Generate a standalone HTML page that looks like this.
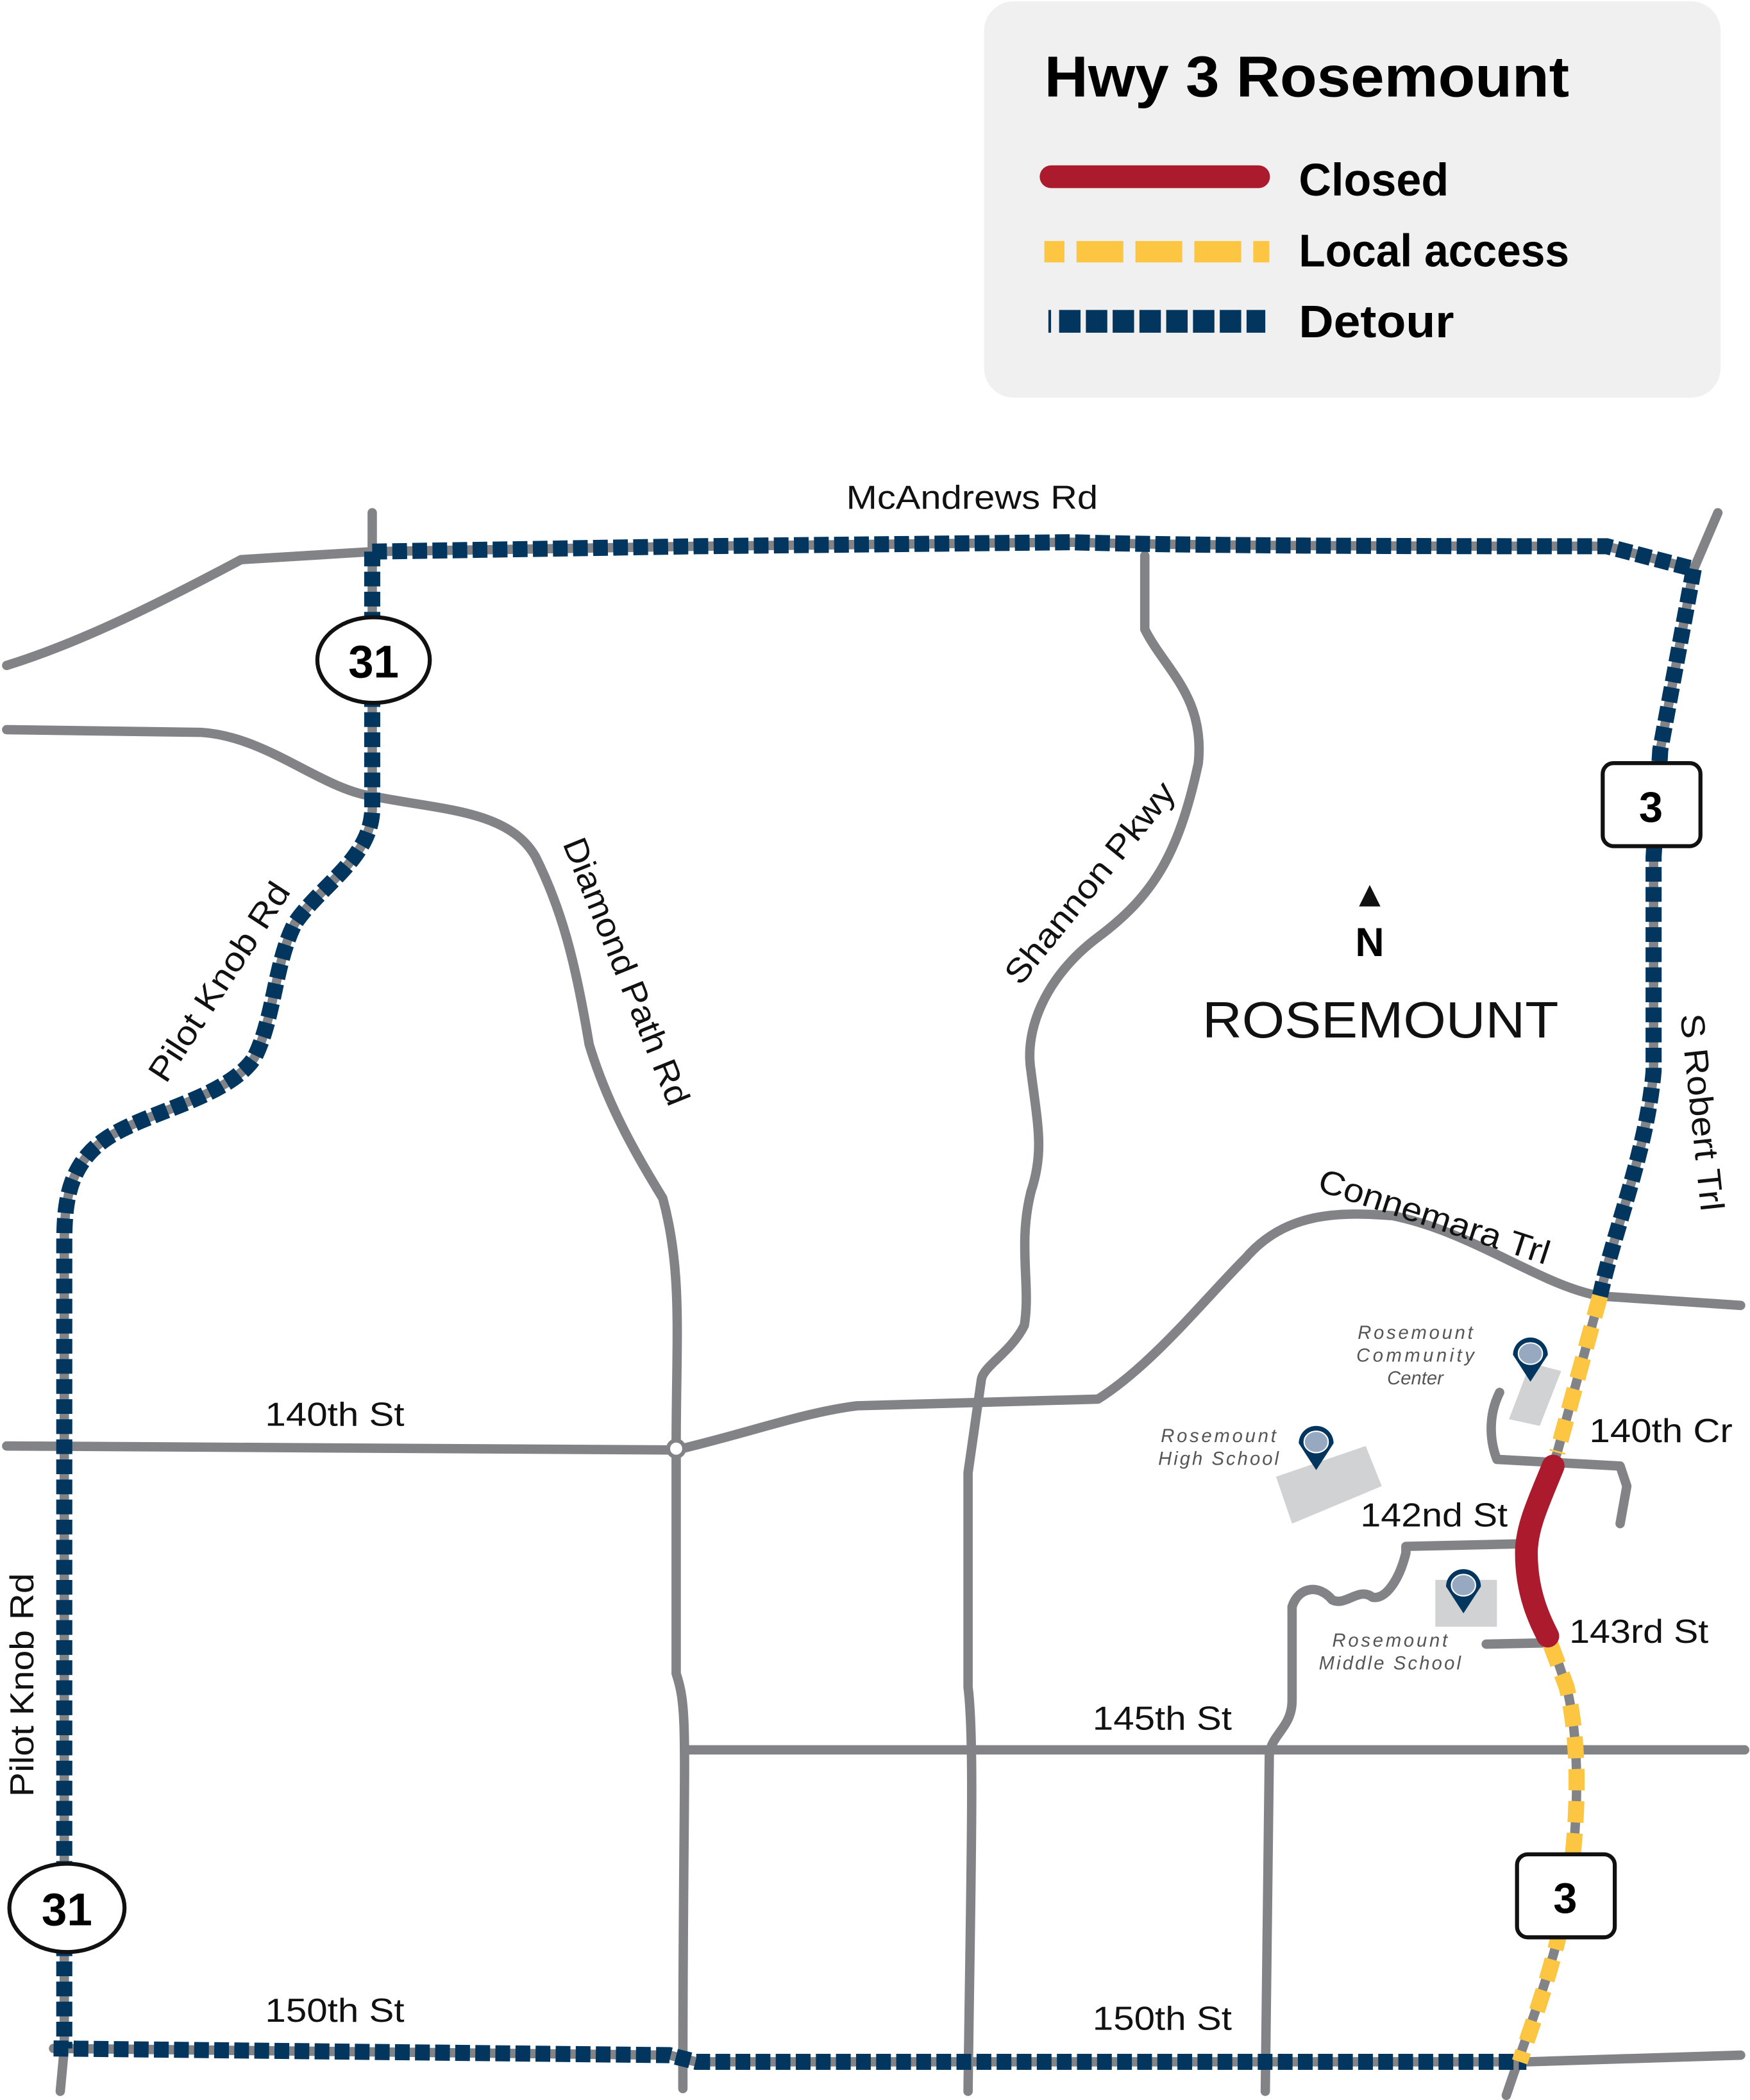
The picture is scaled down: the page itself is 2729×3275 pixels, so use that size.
<!DOCTYPE html>
<html><head><meta charset="utf-8"><style>html,body{margin:0;padding:0;background:#fff}svg{display:block}</style></head>
<body>
<svg xmlns="http://www.w3.org/2000/svg" width="2729" height="3275" viewBox="0 0 1307 1568.5" font-family="Liberation Sans, DejaVu Sans, sans-serif">
<rect width="1307" height="1569" fill="#fff"/>
<!-- legend -->
<rect x="735" y="1" width="550" height="296" rx="22" fill="#f0f0f0"/>
<text x="780" y="72" font-size="43" font-weight="bold" textLength="392" lengthAdjust="spacingAndGlyphs">Hwy 3 Rosemount</text>
<line x1="785" y1="132" x2="940" y2="132" stroke="#ab1a2d" stroke-width="17" stroke-linecap="round"/>
<text x="970" y="146" font-size="34" font-weight="bold" textLength="112" lengthAdjust="spacingAndGlyphs">Closed</text>
<line x1="780" y1="188" x2="948" y2="188" stroke="#fcc643" stroke-width="16" stroke-dasharray="15 9 35 9 35 9 35 9 35"/>
<text x="970" y="199" font-size="34" font-weight="bold" textLength="202" lengthAdjust="spacingAndGlyphs">Local access</text>
<line x1="783" y1="240" x2="945" y2="240" stroke="#02365f" stroke-width="17" stroke-dasharray="2 6 16 4 16 4 16 4 16 4 16 4 16 4 16 4 16"/>
<text x="970" y="252" font-size="34" font-weight="bold" textLength="116" lengthAdjust="spacingAndGlyphs">Detour</text>

<g fill="none" stroke="#828386" stroke-width="7" stroke-linecap="round" stroke-linejoin="round">
<path d="M5,497 C60,480 120,450 180,418 L278,412"/>
<path d="M278,412 L520,408 L800,405 C900,408 1100,408 1200,408 L1265,425 L1283,383"/>
<path d="M278,383 L278,600 C280,640 240,660 220,690 C205,720 205,760 190,790 C170,820 110,830 80,850 C50,870 48,900 48,930 L48,1530 L45,1562"/>
<path d="M40,1530 L500,1535 L520,1540 L1140,1540 L1300,1535"/>
<path d="M1265,425 L1240,560 L1235,640 L1235,800 C1230,860 1205,920 1195,968 L1163,1085 C1150,1120 1140,1140 1140,1160 C1140,1190 1150,1210 1158,1225 L1170,1260 C1180,1300 1180,1360 1170,1420 C1160,1470 1140,1520 1125,1565"/>
<path d="M5,1080 L505,1083 C560,1070 600,1055 640,1050 L820,1045 C860,1020 900,970 930,940 C960,905 1000,905 1040,908 C1100,920 1150,960 1195,968 L1300,975"/>
<path d="M5,545 L150,547 C200,550 240,590 280,595 C330,605 380,605 400,640 C420,680 430,720 440,780 C455,830 480,870 495,895 C510,950 505,1000 505,1080 L505,1250 C515,1280 510,1300 510,1560"/>
<path d="M855,415 L855,470 C870,500 900,520 895,570 C880,640 860,670 820,700 C780,730 765,770 770,800 C775,840 780,860 770,890 C760,930 770,960 765,990 C755,1010 735,1020 733,1030 L723,1100 L723,1260 C728,1300 725,1400 723,1562"/>
<path d="M512,1307 L1303,1307"/>
<path d="M945,1562 L948,1310 C950,1295 965,1290 965,1270 L965,1200 C970,1185 985,1183 995,1195 C1005,1200 1015,1185 1025,1193 C1035,1195 1045,1180 1050,1160 L1050,1155 L1140,1153"/>
<path d="M1110,1228 L1160,1227"/>
<path d="M1120,1040 C1110,1060 1114,1080 1118,1090 L1210,1095 L1215,1110 L1210,1138"/>
</g>
<circle cx="505" cy="1082" r="6" fill="#fff" stroke="#828386" stroke-width="3"/>

<!-- detour -->
<g fill="none" stroke="#02365f" stroke-width="12" stroke-dasharray="11 4">
<path d="M278,412 L520,408 L800,405 C900,408 1100,408 1200,408 L1265,425"/>
<path d="M278,412 L278,600 C280,640 240,660 220,690 C205,720 205,760 190,790 C170,820 110,830 80,850 C50,870 48,900 48,930 L48,1530"/>
<path d="M40,1530 L500,1535 L520,1540 L1140,1540"/>
<path d="M1265,425 L1240,560 L1235,640 L1235,800 C1230,860 1205,920 1195,968"/>
</g>
<!-- local access -->
<g fill="none" stroke="#fcc643" stroke-width="12" stroke-dasharray="16 8">
<path d="M1195,968 L1163,1085"/>
<path d="M1158,1228 L1170,1260 C1180,1300 1180,1360 1170,1420 C1160,1470 1145,1510 1135,1540"/>
</g>
<path d="M1160,1095 C1150,1120 1140,1140 1140,1160 C1140,1190 1150,1210 1156,1222" fill="none" stroke="#ab1a2d" stroke-width="17" stroke-linecap="round"/>

<!-- shields -->
<ellipse cx="279" cy="493" rx="42" ry="32" fill="#fff" stroke="#111" stroke-width="3"/>
<text x="279" y="506" font-size="34" font-weight="bold" text-anchor="middle">31</text>
<ellipse cx="50" cy="1425" rx="43" ry="33" fill="#fff" stroke="#111" stroke-width="3"/>
<text x="50" y="1438" font-size="34" font-weight="bold" text-anchor="middle">31</text>
<rect x="1197" y="570" width="73" height="62" rx="8" fill="#fff" stroke="#111" stroke-width="3"/>
<text x="1233" y="614" font-size="32" font-weight="bold" text-anchor="middle">3</text>
<rect x="1133" y="1385" width="73" height="62" rx="8" fill="#fff" stroke="#111" stroke-width="3"/>
<text x="1169" y="1429" font-size="32" font-weight="bold" text-anchor="middle">3</text>

<!-- buildings & pins -->
<polygon points="1143,1018 1166,1024 1150,1065 1127,1060" fill="#d1d2d4"/>
<polygon points="953,1103 1020,1080 1032,1110 965,1138" fill="#d1d2d4"/>
<rect x="1072" y="1180" width="46" height="35" fill="#d1d2d4"/>
<g fill="#02365f" stroke="none">
<path d="M1130,1012 a13,13 0 1,1 26,0 L1143,1032 Z"/><ellipse cx="1143" cy="1011" rx="9" ry="8" fill="#96a9c1" stroke="#fff" stroke-width="1"/>
<path d="M970,1078 a13,13 0 1,1 26,0 L983,1098 Z"/><ellipse cx="983" cy="1077" rx="9" ry="8" fill="#96a9c1" stroke="#fff" stroke-width="1"/>
<path d="M1080,1185 a13,13 0 1,1 26,0 L1093,1205 Z"/><ellipse cx="1093" cy="1184" rx="9" ry="8" fill="#96a9c1" stroke="#fff" stroke-width="1"/>
</g>
<g font-size="14" font-style="italic" fill="#555" text-anchor="middle">
<text x="1057" y="1000" textLength="86">Rosemount</text><text x="1057" y="1017" textLength="88">Community</text><text x="1057" y="1034">Center</text>
<text x="910" y="1077" textLength="86">Rosemount</text><text x="910" y="1094" textLength="90">High School</text>
<text x="1038" y="1230" textLength="86">Rosemount</text><text x="1038" y="1247" textLength="106">Middle School</text>
</g>

<!-- labels -->
<g font-size="25" fill="#111" lengthAdjust="spacingAndGlyphs">
<text x="632" y="380" textLength="188" lengthAdjust="spacingAndGlyphs">McAndrews Rd</text>
<text x="198" y="1065" textLength="104" lengthAdjust="spacingAndGlyphs">140th St</text>
<text x="198" y="1510" textLength="104" lengthAdjust="spacingAndGlyphs">150th St</text>
<text x="816" y="1516" textLength="104" lengthAdjust="spacingAndGlyphs">150th St</text>
<text x="816" y="1292" textLength="104" lengthAdjust="spacingAndGlyphs">145th St</text>
<text x="1016" y="1140" textLength="110" lengthAdjust="spacingAndGlyphs">142nd St</text>
<text x="1172" y="1227" textLength="104" lengthAdjust="spacingAndGlyphs">143rd St</text>
<text x="1187" y="1077" textLength="107" lengthAdjust="spacingAndGlyphs">140th Cr</text>
<text transform="translate(25,1342) rotate(-90)" textLength="167" lengthAdjust="spacingAndGlyphs">Pilot Knob Rd</text>
<text transform="translate(124,810) rotate(-57)" textLength="172" lengthAdjust="spacingAndGlyphs">Pilot Knob Rd</text>
<text transform="translate(420,630) rotate(68)" textLength="213" lengthAdjust="spacingAndGlyphs">Diamond Path Rd</text>
<text transform="translate(762,737) rotate(-51)" textLength="186" lengthAdjust="spacingAndGlyphs">Shannon Pkwy</text>
<text transform="translate(1255,758) rotate(84)" textLength="148" lengthAdjust="spacingAndGlyphs">S Robert Trl</text>
<text transform="translate(983,889) rotate(18)" textLength="180" lengthAdjust="spacingAndGlyphs">Connemara Trl</text>
</g>
<text x="898" y="775" font-size="38" fill="#111" textLength="266" lengthAdjust="spacingAndGlyphs">ROSEMOUNT</text>
<polygon points="1023,661 1031,677 1015,677" fill="#111"/>
<text x="1023" y="714" font-size="30" font-weight="bold" text-anchor="middle">N</text>
</svg>
</body></html>
